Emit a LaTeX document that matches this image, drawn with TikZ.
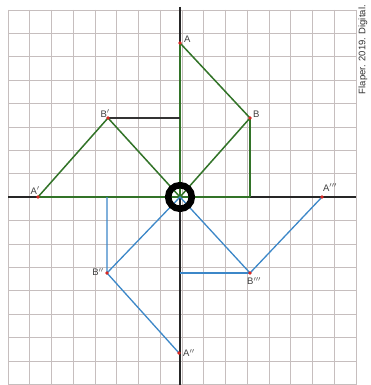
\documentclass[tikz,border=0pt]{standalone}
\usepackage{fontspec}
\setmainfont{Liberation Sans}
\definecolor{gridc}{RGB}{198,190,190}
\definecolor{greenc}{RGB}{50,115,40}
\definecolor{bluec}{RGB}{60,135,200}
\definecolor{dotc}{RGB}{215,40,35}
\begin{document}
\begin{tikzpicture}[x=1pt,y=-1pt,
  gridline/.style={draw=gridc,line width=0.7pt},
  axisline/.style={draw=black!85,line width=1.6pt},
  greenline/.style={draw=greenc,line width=1.5pt},
  blueline/.style={draw=bluec,line width=1.3pt},
  blackline/.style={draw=black!80,line width=1.3pt},
  dot/.style={circle,fill=dotc,inner sep=0pt,minimum size=3.6pt},
  lab/.style={font=\fontsize{9.5}{10}\selectfont,text=black!75,inner sep=1pt}]
\useasboundingbox (0,0) rectangle (371,385);
\fill[white] (0,0) rectangle (371,385);
% grid
\foreach \i in {0,...,16} {\draw[gridline] ({8+21.75*\i},10) -- ({8+21.75*\i},385);}
\foreach \j in {0,...,16} {\draw[gridline] (8,{10+23.4*\j}) -- (356,{10+23.4*\j});}
% points
\coordinate (O) at (180,197);
\coordinate (A) at (180,43);
\coordinate (B) at (250,118);
\coordinate (Bp) at (108,118);
\coordinate (Ap) at (38,197);
\coordinate (Appp) at (322,197);
\coordinate (Bpp) at (107,273);
\coordinate (Bppp) at (250,273);
\coordinate (App) at (179,353);
\coordinate (Bx) at (250,197);
\coordinate (Bpy) at (180,118);
\coordinate (Bppx) at (107,197);
\coordinate (Bpppy) at (180,273);
\coordinate (XL) at (8,197);
\coordinate (XR) at (356,197);
\coordinate (YT) at (180,7);
\coordinate (YB) at (180,385);
% axes
\draw[axisline] (XL) -- (XR);
\draw[axisline] (YT) -- (YB);
% green construction
\draw[greenline,line width=1.7pt] (O) -- (A);
\draw[greenline,line width=1.7pt] (Ap) -- (Bx);
\draw[greenline] (A) -- (B) -- (O) -- (Bp) -- (Ap);
\draw[greenline] (Bx) -- (B);
\draw[blackline] (Bp) -- (Bpy);
% blue construction
\draw[blueline] (Bppx) -- (Bpp) -- (O) -- (Bppp) -- (Appp);
\draw[blueline] (Bpp) -- (App);
\draw[blueline] (Bpppy) -- (Bppp);
% ring
\draw[black,line width=6.5pt] (O) circle (11.8);
% dots
\foreach \p in {A,B,Bp,Ap,Appp,Bpp,Bppp,App} {\node[dot] (d\p) at (\p) {};}
% labels
\node[lab,anchor=south west] (lA) at (183,44) {A};
\node[lab,anchor=south west] (lB) at (252,119) {B};
\node[lab,anchor=south east] (lBp) at (111,119) {B$'$};
\node[lab,anchor=south east] (lAp) at (41,196) {A$'$};
\node[lab,anchor=south] (lAppp) at (330,193) {A$'''$};
\node[lab,anchor=east] (lBpp) at (105,272) {B$''$};
\node[lab,anchor=north west] (lBppp) at (246,276) {B$'''$};
\node[lab,anchor=west] (lApp) at (182,353) {A$''$};
\node[font=\fontsize{9.5}{10}\selectfont,text=black!80,rotate=90,anchor=east,inner sep=0pt] (credit) at (363,5) {Flaper. 2019. Digital.};
\end{tikzpicture}
\end{document}
